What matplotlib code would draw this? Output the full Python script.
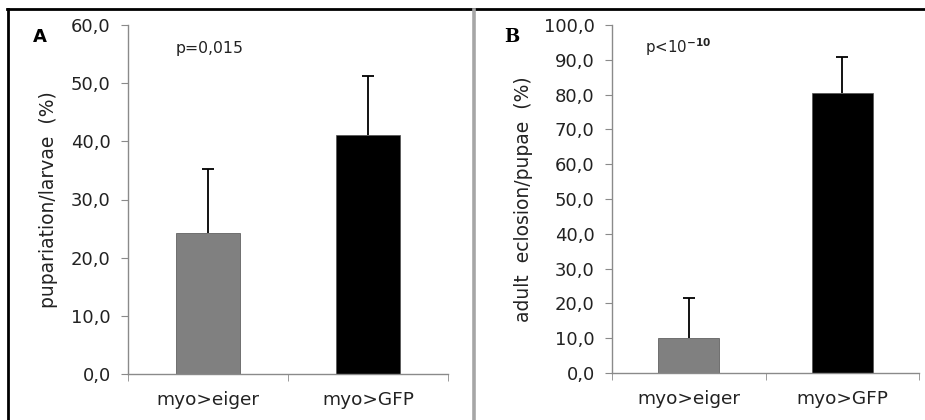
import matplotlib
matplotlib.use("Agg")
import matplotlib.pyplot as plt
from matplotlib.lines import Line2D
import numpy as np

# data
categories = ["myo>eiger", "myo>GFP"]
bar_colors = ["#808080", "#000000"]

pupariation = [24.2, 41.1]
pupariation_err = [11.0, 10.1]
pupariation_ticks = [0, 10, 20, 30, 40, 50, 60]

eclosion = [10.0, 80.5]
eclosion_err = [11.5, 10.3]
eclosion_ticks = [0, 10, 20, 30, 40, 50, 60, 70, 80, 90, 100]

W, H = 925, 420
plt.rcParams["font.family"] = ["DejaVu Sans"]
fig = plt.figure(figsize=(W / 100, H / 100), dpi=100)

axis_gray = "#8a8a8a"
text_col = "#222222"


def px(x, y):
    return x / W, 1 - y / H


def panel(rect, vals, errs, ticks, ylabel, label_x):
    ax = fig.add_axes(rect)
    x = np.arange(len(categories))
    vals = np.array(vals)
    tops = vals + np.array(errs)
    ax.bar(x, vals, width=0.4, color=bar_colors, edgecolor="#505050", linewidth=0.5, zorder=2)
    # upper error bars only, cap on top
    ax.vlines(x, vals, tops, color="black", lw=1.3, zorder=3)
    ax.plot(x, tops, linestyle="none", marker="_", markersize=8,
            markeredgewidth=1.3, color="black", zorder=3)
    ax.set_xlim(-0.5, len(categories) - 0.5)
    ax.set_ylim(ticks[0], ticks[-1])
    ax.set_yticks(ticks)
    ax.set_yticklabels([f"{t:.1f}".replace(".", ",") for t in ticks])
    ax.set_xticks(x)
    ax.set_xticklabels(categories)
    ax.set_xticks(np.arange(-0.5, len(categories)), minor=True)
    for s in ["top", "right"]:
        ax.spines[s].set_visible(False)
    for s in ["left", "bottom"]:
        ax.spines[s].set_color(axis_gray)
        ax.spines[s].set_linewidth(1.0)
    ax.tick_params(axis="y", direction="out", length=5, color=axis_gray,
                   labelsize=13, labelcolor=text_col, pad=7.5)
    ax.tick_params(axis="x", which="major", length=0, pad=12,
                   labelsize=13.3, labelcolor=text_col)
    ax.tick_params(axis="x", which="minor", direction="out", length=5, color=axis_gray)
    ax.set_ylabel(ylabel, fontsize=13.5, color=text_col)
    ax.yaxis.set_label_coords(label_x, 0.5)
    return ax


x0, y0 = px(128, 374)
x1, y1 = px(448, 25)
axA = panel([x0, y0, x1 - x0, y1 - y0], pupariation, pupariation_err,
            pupariation_ticks, "pupariation/larvae  (%)", -0.22)

x0, y0 = px(612, 373)
x1, y1 = px(919, 25)
axB = panel([x0, y0, x1 - x0, y1 - y0], eclosion, eclosion_err,
            eclosion_ticks, "adult  eclosion/pupae  (%)", -0.258)

# panel letters and p-values
fig.text(*px(40, 37), "A", fontsize=13, fontweight="bold", ha="center", va="center")
fig.text(*px(512, 37), "B", fontsize=13, fontweight="bold", family="DejaVu Serif",
         ha="center", va="center")
fig.text(*px(176, 48), "p=0,015", fontsize=11.3, color=text_col, ha="left", va="center")
fig.text(*px(645, 47), r"p<10$^{\mathbf{-10}}$", fontsize=10.8, color=text_col,
         ha="left", va="center")

# frame lines
fig.add_artist(Line2D([7 / W, 1], [1 - 9 / H, 1 - 9 / H], color="black", lw=2))
fig.add_artist(Line2D([8 / W, 8 / W], [0, 1 - 9 / H], color="black", lw=2))
fig.add_artist(Line2D([474 / W, 474 / W], [0, 1 - 10 / H], color="#a6a6a6", lw=2.6))

fig.savefig("out.png", dpi=100)
